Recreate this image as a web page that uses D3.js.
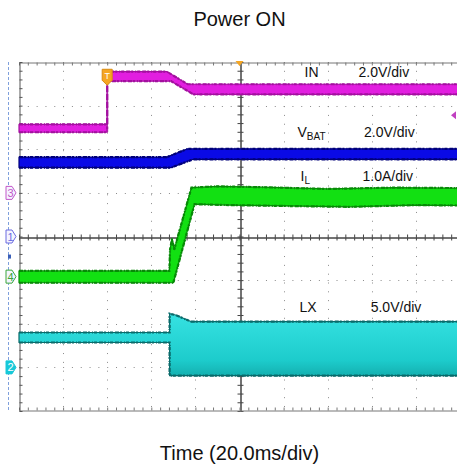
<!DOCTYPE html>
<html>
<head>
<meta charset="utf-8">
<script src="https://cdn.jsdelivr.net/npm/d3@7"></script>
<style>
  body { margin: 0; background: #fff; }
  svg text { font-family: "Liberation Sans", Arial, sans-serif; fill: #111; }
</style>
</head>
<body>
<div id="scope"></div>
<script>
// time in ms (20 ms/div), level in divisions from the centre line
const timeDomain = [-100, 100];
const divDomain = [-4, 4];
const triggerTime = -60;
const triggerLevel = 2.78;

// envelopes of each trace, [time, div]
const inUpper = [[-100, 2.57], [-60, 2.57], [-60, 3.78], [-33, 3.78], [-23.5, 3.49], [100, 3.49]];
const inLower = [[-100, 2.39], [-60, 2.39], [-60, 3.56], [-31, 3.56], [-21, 3.26], [100, 3.26]];
const vbatUpper = [[-100, 1.82], [-33, 1.82], [-23.5, 2.01], [100, 2.01]];
const vbatLower = [[-100, 1.58], [-31, 1.58], [-21, 1.77], [100, 1.77]];
const ilUpper = [[-100, -0.79], [-31.8, -0.79], [-31.5, -0.3], [-30.6, -0.05], [-29.6, -0.3], [-21.8, 1.12], [-10, 1.15], [10, 1.13], [40, 1.09], [70, 1.12], [100, 1.11]];
const ilLower = [[-100, -1.06], [-30.0, -1.06], [-20.4, 0.74], [-5, 0.72], [20, 0.70], [50, 0.68], [80, 0.72], [100, 0.71]];
const lxUpper = [[-100, -2.2], [-31.7, -2.2], [-31.7, -1.77], [-29, -1.8], [-22, -1.95], [100, -1.95]];
const lxLower = [[-100, -2.43], [-31.7, -2.43], [-31.7, -3.19], [100, -3.19]];

const traceNames = ["IN", "VBAT", "IL", "LX"];
const traceScales = ["2.0V/div", "2.0V/div", "1.0A/div", "5.0V/div"];
const channelLabels = ["1", "2", "3", "4"];
const channelOffsets = [0, -3.0, 1.0, -0.92];

const width = 457, height = 465;
const margin = { top: 62, left: 19 };
const plotW = 441, plotH = 349;

const svg = d3.select("#scope").append("svg")
    .attr("width", width)
    .attr("height", height);

const x = d3.scaleLinear().domain(timeDomain).range([margin.left, margin.left + plotW]);
const y = d3.scaleLinear().domain(divDomain).range([margin.top + plotH, margin.top]);

const majorT = d3.range(-100, 100.1, 20);
const majorV = d3.range(-4, 4.01, 1);
const minorT = d3.range(-100, 100.1, 4);
const minorV = d3.range(-4, 4.01, 0.2);
const dotStep = plotW / 50;

// dotted graticule
const grid = svg.append("g");
grid.selectAll("line.h").data(majorV.filter(v => v > -4 && v < 4 && v !== 0)).enter()
    .append("line")
    .attr("x1", x(-100)).attr("x2", x(100))
    .attr("y1", d => Math.round(y(d)) + 0.5).attr("y2", d => Math.round(y(d)) + 0.5)
    .attr("stroke", "#8a8a8a")
    .attr("stroke-dasharray", `1 ${dotStep - 1}`);
grid.selectAll("line.v").data(majorT.filter(t => t > -100 && t !== 0)).enter()
    .append("line")
    .attr("y1", y(4)).attr("y2", y(-4))
    .attr("x1", d => Math.round(x(d)) + 0.5).attr("x2", d => Math.round(x(d)) + 0.5)
    .attr("stroke", "#8a8a8a")
    .attr("stroke-dasharray", `1 ${dotStep - 1}`);

function styleAxis(g, col) {
    g.selectAll(".domain").attr("stroke", col);
    g.selectAll(".tick line").attr("stroke", col);
    g.selectAll(".tick text").remove();
}

// centre cross with minor ticks
const cy = Math.round(y(0)) + 0.5, cx = Math.round(x(0)) + 0.5;
svg.append("g").attr("transform", `translate(0,${cy})`)
    .call(d3.axisBottom(x).tickValues(minorT).tickSize(3).tickSizeOuter(0).tickFormat(""))
    .call(styleAxis, "#444");
svg.append("g").attr("transform", `translate(0,${cy})`)
    .call(d3.axisTop(x).tickValues(minorT).tickSize(3).tickSizeOuter(0).tickFormat(""))
    .call(styleAxis, "#444");
svg.append("g").attr("transform", `translate(${cx},0)`)
    .call(d3.axisLeft(y).tickValues(minorV).tickSize(3).tickSizeOuter(0).tickFormat(""))
    .call(styleAxis, "#444");
svg.append("g").attr("transform", `translate(${cx},0)`)
    .call(d3.axisRight(y).tickValues(minorV).tickSize(3).tickSizeOuter(0).tickFormat(""))
    .call(styleAxis, "#444");

// frame ticks pointing inward
svg.append("g").attr("transform", `translate(0,${Math.round(y(4)) + 0.5})`)
    .call(d3.axisBottom(x).tickValues(minorT).tickSize(3).tickSizeOuter(0).tickFormat(""))
    .call(styleAxis, "#777");
svg.append("g").attr("transform", `translate(0,${Math.round(y(-4)) - 0.5})`)
    .call(d3.axisTop(x).tickValues(minorT).tickSize(3).tickSizeOuter(0).tickFormat(""))
    .call(styleAxis, "#777");
svg.append("g").attr("transform", `translate(${Math.round(x(-100)) + 0.5},0)`)
    .call(d3.axisRight(y).tickValues(minorV).tickSize(3).tickSizeOuter(0).tickFormat(""))
    .call(styleAxis, "#555");

// dashed cursor on the far left
svg.append("line")
    .attr("x1", 8.5).attr("x2", 8.5)
    .attr("y1", y(4)).attr("y2", y(-4))
    .attr("stroke", "#7fa0dc")
    .attr("stroke-dasharray", "3 2");

// traces
const line = d3.line().x(d => x(d[0])).y(d => y(d[1]));
const defs = svg.append("defs");
const lxGrad = defs.append("linearGradient").attr("id", "lxGrad")
    .attr("x1", 0).attr("x2", 0).attr("y1", 0).attr("y2", 1);
lxGrad.append("stop").attr("offset", "0%").attr("stop-color", "#36e2e2");
lxGrad.append("stop").attr("offset", "75%").attr("stop-color", "#1dcccc");
lxGrad.append("stop").attr("offset", "100%").attr("stop-color", "#14b0b0");

const traces = [
    { upper: inUpper, lower: inLower, fill: "#e21ee0", edge: "#a3109f" },
    { upper: vbatUpper, lower: vbatLower, fill: "#0a0ae6", edge: "#00007a" },
    { upper: ilUpper, lower: ilLower, fill: "#12e012", edge: "#078a07" },
    { upper: lxUpper, lower: lxLower, fill: "url(#lxGrad)", edge: "#096b6b" }
];

const traceG = svg.append("g");
traces.forEach(tr => {
    const poly = tr.upper.concat(tr.lower.slice().reverse());
    traceG.append("path")
        .attr("d", line(poly) + "Z")
        .attr("fill", tr.fill)
        .attr("stroke", tr.edge)
        .attr("stroke-width", 1.2)
        .attr("stroke-linejoin", "round");
    // ragged noise texture along the edges
    [tr.upper, tr.lower].forEach(edge => {
        traceG.append("path")
            .attr("d", line(edge))
            .attr("fill", "none")
            .attr("stroke", tr.edge)
            .attr("stroke-width", 2.2)
            .attr("stroke-dasharray", "4 1 2 2 1 1 3 2");
    });
});

// trace labels
const labelTimes = [[29.5, 54], [26.3, 56.5], [27.7, 55.8], [27.2, 59.5]];
const labelBaselines = [3.66, 2.28, 1.27, -1.73];
traceNames.forEach((name, i) => {
    const t = svg.append("text")
        .attr("x", x(labelTimes[i][0]))
        .attr("y", y(labelBaselines[i]))
        .style("font-size", "14px");
    if (name === "VBAT") {
        t.append("tspan").text("V");
        t.append("tspan").attr("dy", 3).style("font-size", "10px").text("BAT");
    } else if (name === "IL") {
        t.append("tspan").text("I");
        t.append("tspan").attr("dy", 3).style("font-size", "10px").text("L");
    } else {
        t.text(name);
    }
    svg.append("text")
        .attr("x", x(labelTimes[i][1]))
        .attr("y", y(labelBaselines[i]))
        .style("font-size", "14px")
        .text(traceScales[i]);
});

// channel ground markers
const chColors = ["#6b6be0", "#16c8d8", "#c257c8", "#3aa63a"];
channelLabels.forEach((lab, i) => {
    const yy = y(channelOffsets[i]);
    const g = svg.append("g").attr("transform", `translate(6,${yy})`);
    const filled = lab === "2";
    g.append("path")
        .attr("d", "M0,-6.5 L6,-6.5 L10,0 L6,6.5 L0,6.5 Z")
        .attr("fill", filled ? chColors[i] : "#f4f4ff")
        .attr("stroke", chColors[i])
        .attr("stroke-width", 1);
    g.append("text")
        .attr("x", 4.5).attr("y", 4)
        .attr("text-anchor", "middle")
        .style("font-size", "11px")
        .style("fill", filled ? "#fff" : chColors[i])
        .text(lab);
});
svg.append("rect")
    .attr("x", 8).attr("y", y(-0.46) - 2)
    .attr("width", 3).attr("height", 4)
    .attr("fill", "#3a5fb8");

// trigger markers
const tg = svg.append("g").attr("transform", `translate(${x(triggerTime)},${y(3.65)})`);
tg.append("path")
    .attr("d", "M-5,-8 L5,-8 L5,3 L0,8 L-5,3 Z")
    .attr("fill", "#f5a623").attr("stroke", "#d98a10");
tg.append("text").attr("y", 2).attr("text-anchor", "middle")
    .style("font-size", "9px").style("fill", "#fff").text("T");
svg.append("path")
    .attr("transform", `translate(${x(0)},${y(4)})`)
    .attr("d", "M-4,-1 L4,-1 L0,4 Z")
    .attr("fill", "#f5a623");
svg.append("path")
    .attr("transform", `translate(${width - 1},${y(triggerLevel)})`)
    .attr("d", "M0,-4 L0,4 L-5,0 Z")
    .attr("fill", "#c040c0");

// titles
svg.append("text")
    .attr("x", x(0)).attr("y", 26)
    .attr("text-anchor", "middle")
    .style("font-size", "20px")
    .text("Power ON");
svg.append("text")
    .attr("x", x(0)).attr("y", 460)
    .attr("text-anchor", "middle")
    .style("font-size", "20px")
    .text("Time (20.0ms/div)");
</script>
</body>
</html>
